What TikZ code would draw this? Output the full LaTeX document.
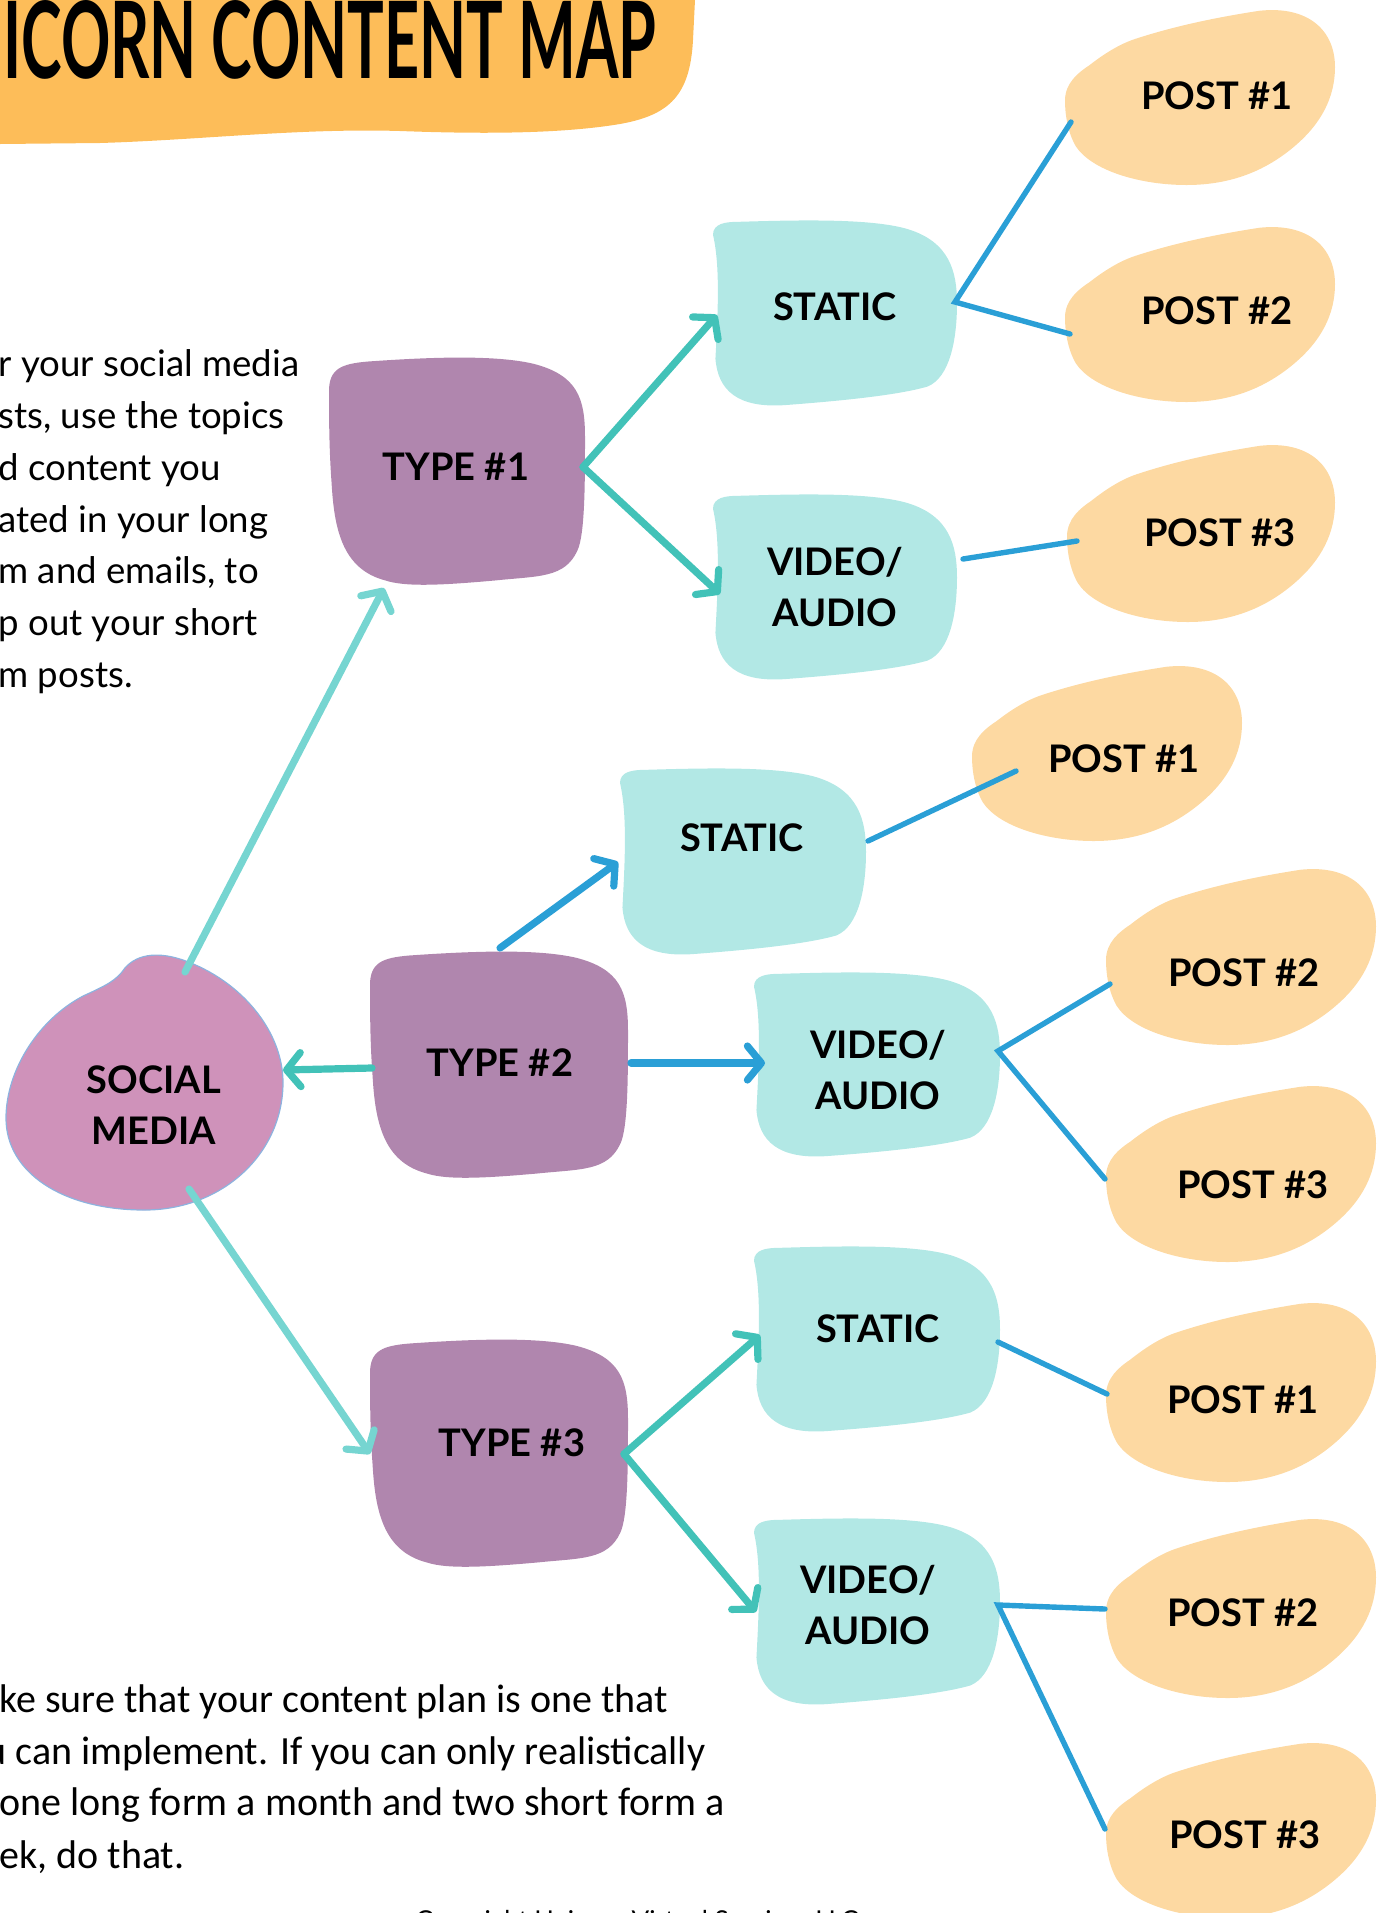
\documentclass[tikz,border=0pt]{standalone}
\usepackage{fontspec}
\usepackage{graphicx}
\setmainfont{Lato}
\newfontfamily\notefont{Carlito}
\usetikzlibrary{arrows.meta,calc}

\definecolor{bannerorange}{HTML}{FDBD59}
\definecolor{socialpink}{HTML}{CF92BA}
\definecolor{typepurple}{HTML}{B086AE}
\definecolor{formteal}{HTML}{B2E8E5}
\definecolor{postpeach}{HTML}{FDD9A2}
\definecolor{arrowteal}{HTML}{42C2B8}
\definecolor{arrowaqua}{HTML}{76D5D1}
\definecolor{linkblue}{HTML}{2A9FD6}
\definecolor{outlineblue}{HTML}{8DB3DF}

% blob outlines in a unit box (x right, y down)
\newcommand\shapeType[1]{\fill[#1] (0.0,0.15) .. controls (0.0,0.05) and (0.05,0.03) .. (0.15,0.02)
  .. controls (0.40,0.0) and (0.65,-0.01) .. (0.80,0.03)
  .. controls (0.97,0.08) and (1.0,0.18) .. (1.0,0.35)
  .. controls (1.0,0.55) and (1.0,0.78) .. (0.97,0.85)
  .. controls (0.92,0.97) and (0.82,0.96) .. (0.65,0.98)
  .. controls (0.45,1.0) and (0.30,1.01) .. (0.22,0.98)
  .. controls (0.05,0.93) and (0.02,0.75) .. (0.01,0.55)
  .. controls (0.0,0.40) and (0.0,0.25) .. (0.0,0.15) -- cycle;}
\newcommand\shapeForm[1]{\fill[#1] (0.0,0.08) .. controls (0.0,0.02) and (0.05,0.01) .. (0.10,0.01)
  .. controls (0.35,0.0) and (0.65,-0.01) .. (0.80,0.05)
  .. controls (0.97,0.12) and (1.0,0.28) .. (1.0,0.45)
  .. controls (1.0,0.65) and (0.97,0.85) .. (0.88,0.90)
  .. controls (0.75,0.95) and (0.50,0.98) .. (0.30,1.0)
  .. controls (0.10,1.02) and (0.02,0.92) .. (0.01,0.75)
  .. controls (0.02,0.50) and (0.03,0.25) .. (0.0,0.08) -- cycle;}
\newcommand\shapePost[1]{\fill[#1] (0.0,0.52) .. controls (0.0,0.42) and (0.05,0.36) .. (0.09,0.32)
  .. controls (0.14,0.26) and (0.20,0.20) .. (0.26,0.17)
  .. controls (0.40,0.10) and (0.55,0.05) .. (0.72,0.01)
  .. controls (0.90,-0.02) and (1.0,0.12) .. (1.0,0.33)
  .. controls (1.0,0.50) and (0.95,0.65) .. (0.85,0.78)
  .. controls (0.72,0.95) and (0.58,1.0) .. (0.45,1.0)
  .. controls (0.28,1.0) and (0.10,0.92) .. (0.04,0.78)
  .. controls (0.01,0.70) and (0.0,0.60) .. (0.0,0.52) -- cycle;}
\newcommand\shapeSocial[1]{\fill[#1] (0.0,0.64) .. controls (0.0,0.45) and (0.12,0.25) .. (0.28,0.16)
  .. controls (0.36,0.12) and (0.40,0.10) .. (0.43,0.05)
  .. controls (0.48,-0.01) and (0.56,-0.01) .. (0.64,0.02)
  .. controls (0.85,0.10) and (1.0,0.30) .. (1.0,0.50)
  .. controls (1.0,0.78) and (0.78,1.0) .. (0.50,1.0)
  .. controls (0.20,1.0) and (0.0,0.85) .. (0.0,0.64) -- cycle;}

% shape, fill options, node name, left, top, width, height
\newcommand\placeblob[7]{%
  \begin{scope}[shift={(#4,#5)}, xscale=#6, yscale=#7]
    #1{#2}
  \end{scope}
  \node[bbox, minimum width=#6*0.5pt, minimum height=#7*0.5pt, anchor=north west] (#3) at (#4,#5) {};
}

\begin{document}
\begin{tikzpicture}[x=0.5pt, y=-0.5pt,
  bbox/.style={rectangle, inner sep=0pt, outer sep=0pt},
  lbl/.style={font=\fontsize{19}{25.5}\selectfont\bfseries, align=center, inner sep=0pt},
  bodyline/.style={font=\fontsize{18.3}{25}\selectfont, inner sep=0pt, anchor=base west},
  noteline/.style={font=\notefont\fontsize{20}{26}\selectfont, inner sep=0pt, anchor=base west},
  toarrow/.style={line width=3.6pt, line cap=round, -{Straight Barb[length=7pt,width=17pt,round]}},
  link/.style={draw=linkblue, line width=2.7pt, line cap=round}]
\useasboundingbox (0,0) rectangle (1383,1913);

% title banner
\fill[bannerorange] (0,0) -- (695,0) -- (693,40) .. controls (690,95) and (670,115) .. (620,124)
  .. controls (560,134) and (480,134) .. (400,131) .. controls (300,128) and (200,140) .. (100,143)
  -- (0,144) -- cycle;
\node[anchor=north west, inner sep=0pt] (title) at (3,0)
  {\resizebox{326.5pt}{39pt}{\bfseries ICORN CONTENT MAP}};

% blobs
\placeblob{\shapeSocial}{socialpink, draw=outlineblue, line width=0.6pt}{social}{6}{955}{277}{255}
\placeblob{\shapeType}{typepurple}{type1}{329}{357}{256}{228}
\placeblob{\shapeType}{typepurple}{type2}{370}{951}{258}{227}
\placeblob{\shapeType}{typepurple}{type3}{370}{1339}{258}{228}
\placeblob{\shapeForm}{formteal}{static1}{713}{220}{244}{185}
\placeblob{\shapeForm}{formteal}{video1}{713}{494}{244}{185}
\placeblob{\shapeForm}{formteal}{static2}{620}{768}{246}{186}
\placeblob{\shapeForm}{formteal}{video2}{754}{972}{246}{184}
\placeblob{\shapeForm}{formteal}{static3}{754}{1246}{246}{185}
\placeblob{\shapeForm}{formteal}{video3}{754}{1518}{246}{186}
\placeblob{\shapePost}{postpeach}{post1a}{1065}{9}{270}{176}
\placeblob{\shapePost}{postpeach}{post2a}{1065}{226}{270}{176}
\placeblob{\shapePost}{postpeach}{post3a}{1067}{444}{268}{178}
\placeblob{\shapePost}{postpeach}{post1b}{972}{665}{270}{176}
\placeblob{\shapePost}{postpeach}{post2b}{1106}{868}{270}{177}
\placeblob{\shapePost}{postpeach}{post3b}{1106}{1085}{270}{177}
\placeblob{\shapePost}{postpeach}{post1c}{1106}{1302}{270}{180}
\placeblob{\shapePost}{postpeach}{post2c}{1106}{1518}{270}{180}
\placeblob{\shapePost}{postpeach}{post3c}{1106}{1742}{270}{176}

% arrows between social media, types and formats
\draw[toarrow, arrowaqua] ($(social.north)+(40.5,17)$) -- ($(type1.south)+(-73,3)$);
\draw[toarrow, arrowteal] ($(type2.west)+(2,3.5)$) -- ($(social.east)+(0,-12.5)$);
\draw[toarrow, arrowaqua] ($(social.south)+(44.5,-21)$) -- ($(type3.west)+(0,1)$);
\draw[toarrow, arrowteal] ($(type1.east)+(-2,-4)$) -- ($(static1.west)+(4,2.5)$);
\draw[toarrow, arrowteal] ($(type1.east)+(-2,-4)$) -- ($(video1.west)+(7,7.5)$);
\draw[toarrow, linkblue] ($(type2.north)+(1,-3)$) -- ($(static2.west)+(-2,1)$);
\draw[toarrow, linkblue] ($(type2.east)+(3,-1.5)$) -- ($(video2.west)+(11,-1)$);
\draw[toarrow, arrowteal] ($(type3.east)+(-4,1)$) -- ($(static3.west)+(6,-3.5)$);
\draw[toarrow, arrowteal] ($(type3.east)+(-4,1)$) -- ($(video3.west)+(2,1)$);

% links from formats to posts
\draw[link] ($(post1a.west)+(6,25)$) -- ($(static1.east)+(-2,-10.5)$) -- ($(post2a.west)+(5,20)$);
\draw[link] ($(video1.east)+(6,-27.5)$) -- ($(post3a.west)+(10,8)$);
\draw[link] ($(static2.east)+(2,-20)$) -- ($(post1b.west)+(44,18)$);
\draw[link] ($(post2b.west)+(4,27.5)$) -- ($(video2.east)+(-2,-13)$) -- ($(post3b.west)+(-1,5.5)$);
\draw[link] ($(static3.east)+(-2,3.5)$) -- ($(post1c.west)+(1,2)$);
\draw[link] ($(post2c.west)+(-1,1)$) -- ($(video3.east)+(-2,-6)$) -- ($(post3c.west)+(-1,-1)$);

% labels
\node[lbl] (social-txt) at (154,1105) {SOCIAL\\MEDIA};
\node[lbl] (type1-txt) at (456,467) {TYPE \#1};
\node[lbl] (type2-txt) at (500,1063) {TYPE \#2};
\node[lbl] (type3-txt) at (512,1443) {TYPE \#3};
\node[lbl] (static1-txt) at (835,307) {STATIC};
\node[lbl] (video1-txt) at (835,587) {VIDEO/\\AUDIO};
\node[lbl] (static2-txt) at (742,838) {STATIC};
\node[lbl] (video2-txt) at (878,1070) {VIDEO/\\AUDIO};
\node[lbl] (static3-txt) at (878,1329) {STATIC};
\node[lbl] (video3-txt) at (868,1605) {VIDEO/\\AUDIO};
\node[lbl] (post1a-txt) at (1217,96) {POST \#1};
\node[lbl] (post2a-txt) at (1217,311) {POST \#2};
\node[lbl] (post3a-txt) at (1220,533) {POST \#3};
\node[lbl] (post1b-txt) at (1124,759) {POST \#1};
\node[lbl] (post2b-txt) at (1244,973) {POST \#2};
\node[lbl] (post3b-txt) at (1253,1185) {POST \#3};
\node[lbl] (post1c-txt) at (1243,1400) {POST \#1};
\node[lbl] (post2c-txt) at (1243,1613) {POST \#2};
\node[lbl] (post3c-txt) at (1245,1835) {POST \#3};

% side text
\node[bodyline] (intro1) at (-2,376) {r your social media};
\node[bodyline] (intro2) at (-2,428) {sts, use the topics};
\node[bodyline] (intro3) at (-2,480) {d content you};
\node[bodyline] (intro4) at (-2,532) {ated in your long};
\node[bodyline] (intro5) at (-2,583) {m and emails, to};
\node[bodyline] (intro6) at (-2,635) {p out your short};
\node[bodyline] (intro7) at (-2,687) {m posts.};

\node[noteline] (note1) at (-1,1712) {ke sure that your content plan is one that};
\node[noteline] (note2) at (-15,1764) {u can implement. If you can only realistically};
\node[noteline] (note3) at (-1,1815) {one long form a month and two short form a};
\node[noteline] (note4) at (-1,1868) {ek, do that.};

\node[font=\fontsize{13}{15}\selectfont, inner sep=0pt, anchor=base] (copyright) at (637,1929)
  {Copyright Unicorn Virtual Services LLC};
\end{tikzpicture}
\end{document}
